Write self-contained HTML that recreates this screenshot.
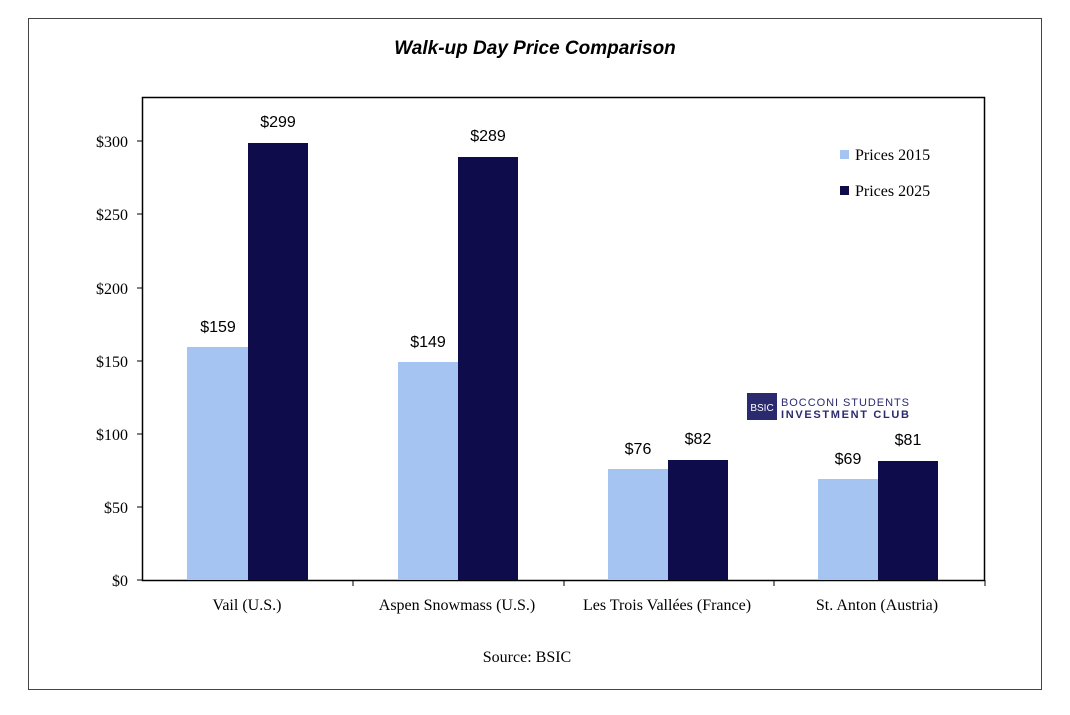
<!DOCTYPE html>
<html><head><meta charset="utf-8"><style>
body{margin:0;background:#fff;width:1070px;height:710px;overflow:hidden}
svg text{font-family:"Liberation Serif",serif}
svg text.s{font-family:"Liberation Sans",sans-serif}
</style></head><body>
<svg width="1070" height="710" xmlns="http://www.w3.org/2000/svg">
<rect x="28.5" y="18.5" width="1013" height="671" fill="#fff" stroke="#444" stroke-width="1"/>
<text class="s" x="535" y="54" text-anchor="middle" font-size="19" font-weight="bold" font-style="italic">Walk-up Day Price Comparison</text>
<rect x="142.5" y="97.5" width="842" height="483" fill="#fff" stroke="#000" stroke-width="1.5"/>
<g font-size="16" text-anchor="end">
<text x="128" y="586">$0</text><line x1="137" x2="142" y1="580" y2="580" stroke="#000"/>
<text x="128" y="513">$50</text><line x1="137" x2="142" y1="507" y2="507" stroke="#000"/>
<text x="128" y="440">$100</text><line x1="137" x2="142" y1="434" y2="434" stroke="#000"/>
<text x="128" y="367">$150</text><line x1="137" x2="142" y1="361" y2="361" stroke="#000"/>
<text x="128" y="294">$200</text><line x1="137" x2="142" y1="288" y2="288" stroke="#000"/>
<text x="128" y="220">$250</text><line x1="137" x2="142" y1="214" y2="214" stroke="#000"/>
<text x="128" y="147">$300</text><line x1="137" x2="142" y1="141" y2="141" stroke="#000"/>
</g>
<g stroke="#000"><line x1="353" x2="353" y1="580" y2="586"/><line x1="564" x2="564" y1="580" y2="586"/><line x1="774" x2="774" y1="580" y2="586"/><line x1="985" x2="985" y1="580" y2="586"/></g>
<g fill="#a6c4f2">
<rect x="187" y="347" width="61" height="233"/><rect x="398" y="362" width="60" height="218"/>
<rect x="608" y="469" width="60" height="111"/><rect x="818" y="479" width="60" height="101"/>
</g>
<g fill="#0e0c4a">
<rect x="248" y="143" width="60" height="437"/><rect x="458" y="157" width="60" height="423"/>
<rect x="668" y="460" width="60" height="120"/><rect x="878" y="461" width="60" height="119"/>
</g>
<g font-size="16" text-anchor="middle">
<text class="s" x="218" y="332">$159</text><text class="s" x="278" y="127">$299</text>
<text class="s" x="428" y="347">$149</text><text class="s" x="488" y="141">$289</text>
<text class="s" x="638" y="454">$76</text><text class="s" x="698" y="444">$82</text>
<text class="s" x="848" y="464">$69</text><text class="s" x="908" y="445">$81</text>
</g>
<g font-size="16" text-anchor="middle">
<text x="247" y="610">Vail (U.S.)</text>
<text x="457" y="610">Aspen Snowmass (U.S.)</text>
<text x="667" y="610">Les Trois Vallées (France)</text>
<text x="877" y="610">St. Anton (Austria)</text>
<text x="527" y="662">Source: BSIC</text>
</g>
<rect x="840" y="150" width="9" height="9" fill="#a6c4f2"/>
<text x="855" y="160" font-size="16">Prices 2015</text>
<rect x="840" y="186" width="9" height="9" fill="#0e0c4a"/>
<text x="855" y="196" font-size="16">Prices 2025</text>
<rect x="747" y="393" width="30" height="27" fill="#2b2a6e"/>
<text class="s" x="762" y="411" font-size="10" fill="#fff" text-anchor="middle">BSIC</text>
<text class="s" x="781" y="406" font-size="11" fill="#2b2a6e" textLength="128">BOCCONI STUDENTS</text>
<text class="s" x="781" y="418" font-size="11" font-weight="bold" fill="#2b2a6e" textLength="128">INVESTMENT CLUB</text>
</svg>
</body></html>
